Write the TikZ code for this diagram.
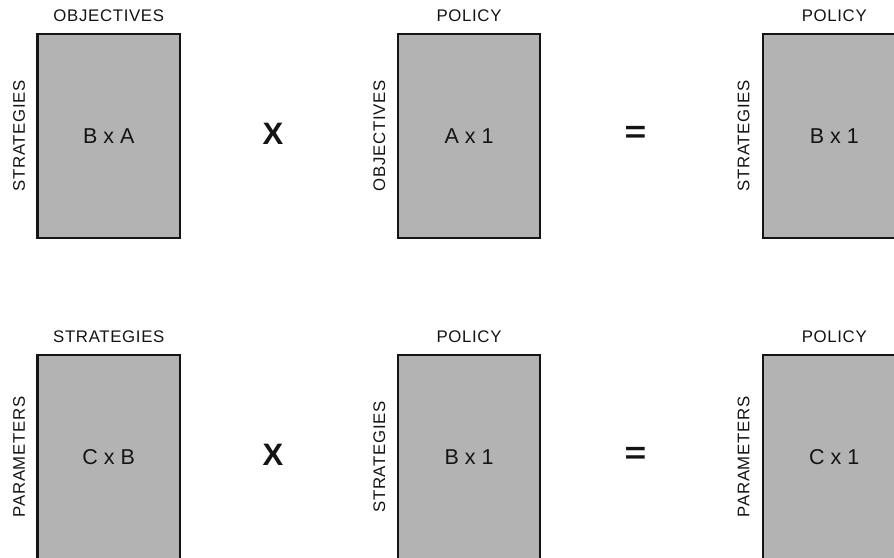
\documentclass[tikz,border=0pt]{standalone}
\usepackage{fontspec}
\setmainfont{Liberation Sans}
\newfontfamily\lblfont[LetterSpace=4]{Liberation Sans}
\definecolor{boxgray}{RGB}{179,179,179}
\definecolor{inkc}{RGB}{20,20,20}
\tikzset{
  matbox/.style={draw=inkc, line width=2.3pt, fill=boxgray, minimum width=142.5pt, minimum height=204pt, inner sep=0pt, text=inkc, font=\fontsize{21.5}{25}\selectfont},
  toplab/.style={anchor=base, inner sep=0pt, text=inkc, font=\lblfont\fontsize{16.8}{19}\selectfont},
  sidelab/.style={anchor=base, rotate=90, inner sep=0pt, text=inkc, font=\lblfont\fontsize{16.8}{19}\selectfont},
  opsign/.style={inner sep=0pt, text=inkc, font=\bfseries\fontsize{31}{36}\selectfont},
}
\begin{document}
\begin{tikzpicture}[x=1pt,y=-1pt]
\useasboundingbox (0,0) rectangle (894,557);
\clip (0,0) rectangle (894,557);
% row 1
\node[matbox] (m1) at (108.75,136) {B x A};
\node[matbox] (m2) at (469,136) {A x 1};
\node[matbox] (m3) at (834.25,136) {B x 1};
\node[toplab] (t1) at ([yshift=11.5pt]m1.north) {OBJECTIVES};
\node[toplab] (t2) at ([yshift=11.5pt]m2.north) {POLICY};
\node[toplab] (t3) at ([yshift=11.5pt]m3.north) {POLICY};
\node[sidelab] (s1) at ([xshift=-11.5pt]m1.west) {STRATEGIES};
\node[sidelab] (s2) at ([xshift=-11.5pt]m2.west) {OBJECTIVES};
\node[sidelab] (s3) at ([xshift=-12.5pt]m3.west) {STRATEGIES};
\node[opsign] (x1) at (273,134) {X};
\node[opsign, xscale=1.2] (e1) at (635.5,134.5) {=};
% row 2
\node[matbox] (m4) at (108.75,457) {C x B};
\node[matbox] (m5) at (469,457) {B x 1};
\node[matbox] (m6) at (834.25,457) {C x 1};
\node[toplab] (t4) at ([yshift=11.5pt]m4.north) {STRATEGIES};
\node[toplab] (t5) at ([yshift=11.5pt]m5.north) {POLICY};
\node[toplab] (t6) at ([yshift=11.5pt]m6.north) {POLICY};
\node[sidelab] (s4) at ([xshift=-11.5pt]m4.west) {PARAMETERS};
\node[sidelab] (s5) at ([xshift=-11.5pt]m5.west) {STRATEGIES};
\node[sidelab] (s6) at ([xshift=-12.5pt]m6.west) {PARAMETERS};
\node[opsign] (x2) at (273,455) {X};
\node[opsign, xscale=1.2] (e2) at (635.5,455.5) {=};
\end{tikzpicture}
\end{document}
